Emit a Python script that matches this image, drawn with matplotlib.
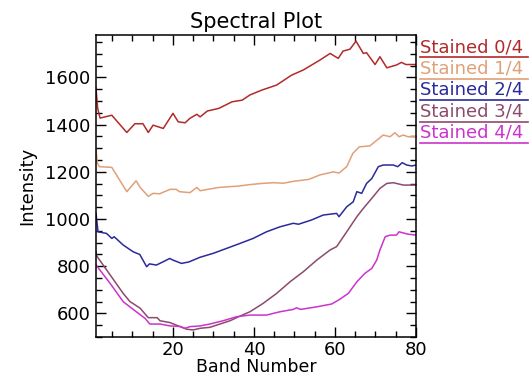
import matplotlib.pyplot as plt
from matplotlib.ticker import MultipleLocator

# Band / intensity readings for each stain level
red_x = [1, 1.4, 2, 4.9, 8.6, 10.6, 12.6, 13.9, 15.1, 17.6, 20, 21.3, 23, 24.2, 25.9, 26.7,
         28.5, 31.3, 34.6, 37.1, 39, 42, 45.6, 49.3, 52.2, 56.3, 58.8, 60.8, 62, 63.7,
         65.2, 67, 67.8, 69.9, 71.1, 72.8, 75.2, 76.4, 77.5, 80]
red_y = [1555, 1470, 1428, 1440, 1367, 1404, 1404, 1367, 1398, 1384, 1448, 1412, 1408, 1427,
         1444, 1433, 1458, 1469, 1497, 1504, 1526, 1547, 1568, 1610, 1632, 1674, 1702, 1681,
         1712, 1720, 1754, 1702, 1705, 1655, 1688, 1641, 1653, 1664, 1655, 1655]

peach_x = [1, 1.3, 1.8, 4.9, 8.6, 10.9, 11.9, 13.9, 15.1, 16.7, 19.3, 20.8, 21.6, 24.2, 25.9,
           26.7, 31.3, 36.3, 39, 42, 44.8, 47.3, 49.8, 53.5, 56.3, 59.6, 61, 62.9, 64.4, 66,
           68.6, 71.9, 73.6, 74.8, 75.8, 76.9, 78, 80]
peach_y = [1300, 1240, 1222, 1219, 1116, 1162, 1134, 1096, 1109, 1107, 1126, 1126, 1116, 1112,
           1134, 1120, 1134, 1140, 1146, 1151, 1154, 1152, 1160, 1168, 1187, 1200, 1195, 1222,
           1278, 1306, 1310, 1356, 1349, 1366, 1349, 1356, 1349, 1349]

blue_x = [1, 1.5, 3.6, 4.9, 5.5, 7.7, 10.2, 11.8, 13.5, 14.2, 15.9, 17.6, 19.2, 20, 22.1,
          23.9, 26.7, 30, 33.3, 36.6, 39.8, 43.1, 46.4, 49.7, 51, 54.2, 57.1, 60.4, 61, 62.9,
          64.5, 65.4, 66.6, 67.8, 69.1, 70.7, 71.9, 74.4, 75.5, 76.6, 77.7, 79, 80]
blue_y = [1024, 946, 939, 918, 925, 890, 861, 850, 798, 810, 805, 819, 833, 826, 812, 818,
          838, 855, 876, 897, 918, 946, 967, 982, 978, 996, 1017, 1024, 1010, 1052, 1073,
          1116, 1109, 1151, 1172, 1222, 1229, 1229, 1222, 1239, 1229, 1225, 1229]

mauve_x = [1, 1.2, 4.5, 7.7, 9.4, 11.9, 13.9, 16.1, 16.8, 19.3, 21.3, 23.4, 25, 26.7, 29.1,
           31.6, 34.1, 36.6, 39, 42.3, 45.6, 48.9, 52.2, 55.5, 58.8, 60.4, 62.9, 65.4, 67,
           69.1, 71.1, 72.8, 74.4, 76.9, 80]
mauve_y = [861, 843, 763, 685, 650, 622, 582, 582, 569, 561, 547, 533, 530, 537, 541, 555,
           569, 589, 607, 643, 685, 734, 777, 826, 869, 883, 946, 1010, 1045, 1088, 1130,
           1151, 1154, 1144, 1144]

magenta_x = [1, 1.2, 4.5, 7.7, 9.8, 13.1, 14.3, 16.8, 19.3, 21.7, 23, 24.2, 26.7, 29.1, 32.4,
             35.7, 39, 43.1, 46.4, 49.7, 50.5, 51.5, 55.5, 59.2, 61.2, 63.3, 65.4, 67.4, 69.1,
             70.3, 71.1, 72.4, 73.6, 75.2, 75.8, 78, 80]
magenta_y = [805, 801, 727, 650, 622, 579, 555, 555, 547, 545, 537, 544, 547, 555, 569, 586,
             593, 593, 607, 617, 624, 617, 628, 640, 660, 685, 734, 770, 791, 826, 869, 925,
             932, 932, 946, 936, 932]

labels = ["Stained 0/4", "Stained 1/4", "Stained 2/4", "Stained 3/4", "Stained 4/4"]
colors = ["#b22a2a", "#e0a078", "#2a2a9c", "#8c4a6c", "#cc33cc"]
series = [(red_x, red_y), (peach_x, peach_y), (blue_x, blue_y),
          (mauve_x, mauve_y), (magenta_x, magenta_y)]

fig = plt.figure(figsize=(5.31, 3.75), dpi=100)
ax = fig.add_axes([0.1808, 0.1013, 0.6026, 0.8053])

for (x, y), c in zip(series, colors):
    ax.plot(x, y, color=c, lw=1.1)

ax.set_xlim(1, 80)
ax.set_ylim(500, 1780)
ax.xaxis.set_major_locator(MultipleLocator(20))
ax.xaxis.set_minor_locator(MultipleLocator(5))
ax.yaxis.set_major_locator(MultipleLocator(200))
ax.yaxis.set_minor_locator(MultipleLocator(50))
ax.tick_params(which="both", direction="in", top=True, right=True, labelsize=13, width=1)
ax.tick_params(which="major", length=7, pad=4)
ax.tick_params(which="minor", length=4)
ax.tick_params(axis="x", which="major", pad=3)
for s in ax.spines.values():
    s.set_linewidth(1.1)

ax.set_title("Spectral Plot", fontsize=15, pad=5)
ax.set_xlabel("Band Number", fontsize=12.5, labelpad=-1)
ax.set_ylabel("Intensity", fontsize=13, labelpad=6)

# legend: coloured text with an underline, right of the plot
for i, (lab, c) in enumerate(zip(labels, colors)):
    ty = 0.96 - 0.071 * i
    ax.text(1.012, ty, lab, transform=ax.transAxes, color=c, fontsize=13,
            va="center", ha="left")
    ax.plot([1.012, 1.35], [ty - 0.034] * 2, transform=ax.transAxes, color=c,
            lw=1.2, clip_on=False)

fig.savefig("out.png", dpi=100)
